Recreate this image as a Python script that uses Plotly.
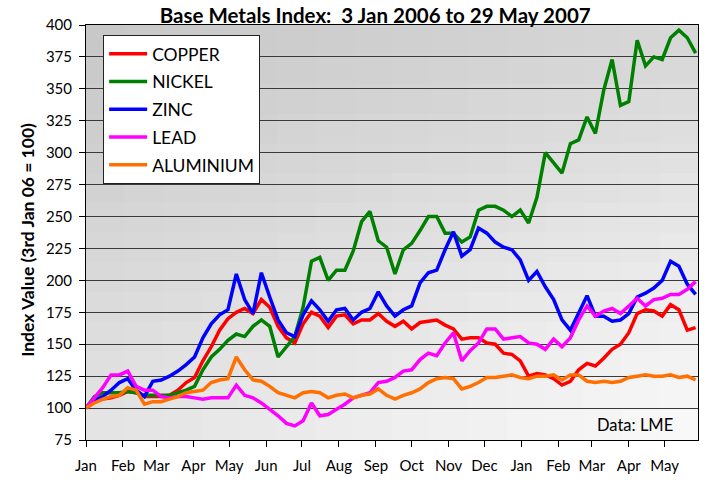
import pandas as pd
import plotly.graph_objects as go

# Weekly observation dates (3 Jan 2006 .. 29 May 2007)
start_date = "2006-01-03"
n_points = 74
dates = pd.date_range(start_date, periods=n_points, freq="7D")

copper = [100, 105, 107, 108, 110, 113, 112, 109, 109, 109,
          110, 114, 120, 124, 137, 148, 161, 170, 175, 178,
          174, 185, 179, 164, 155, 151, 166, 175, 172, 163,
          172, 173, 166, 169, 169, 174, 168, 164, 168, 162,
          167, 168, 169, 165, 162, 154, 155, 155, 151, 150,
          143, 142, 137, 125, 127, 126, 123, 118, 121, 130,
          135, 133, 139, 146, 150, 159, 174, 177, 176, 172,
          181, 177, 161, 163]
nickel = [100, 109, 112, 112, 112, 113, 112, 110, 110, 110,
          110, 112, 114, 117, 130, 140, 146, 153, 158, 156,
          164, 169, 164, 140, 148, 156, 179, 215, 218, 200,
          208, 208, 223, 246, 254, 231, 226, 205, 224, 229,
          239, 250, 250, 237, 237, 230, 234, 255, 258, 258,
          255, 250, 255, 245, 265, 300, 292, 284, 307, 310,
          328, 315, 349, 373, 337, 340, 388, 368, 375, 373,
          390, 396, 390, 378]
zinc = [100, 106, 109, 114, 120, 123, 114, 109, 121, 122,
        125, 129, 134, 140, 155, 166, 173, 177, 205, 185,
        174, 206, 187, 169, 159, 156, 173, 184, 177, 168,
        177, 178, 169, 175, 178, 191, 180, 172, 177, 180,
        198, 206, 208, 224, 238, 219, 224, 241, 237, 230,
        226, 224, 216, 200, 207, 195, 185, 169, 161, 174,
        188, 172, 172, 168, 169, 174, 187, 190, 194, 200,
        215, 211, 197, 189]
lead = [100, 108, 116, 126, 126, 129, 117, 114, 114, 109,
        108, 109, 109, 108, 107, 108, 108, 108, 118, 110,
        108, 104, 99, 94, 88, 86, 90, 104, 94, 95,
        99, 103, 108, 110, 112, 120, 121, 124, 129, 130,
        138, 143, 141, 151, 159, 137, 145, 151, 162, 162,
        154, 155, 156, 151, 150, 146, 154, 148, 155, 169,
        180, 172, 176, 178, 174, 180, 186, 180, 185, 186,
        189, 189, 193, 199]
aluminium = [100, 104, 107, 109, 110, 116, 114, 103, 105, 105,
             107, 109, 112, 113, 114, 120, 122, 123, 140, 130,
             122, 121, 117, 112, 110, 108, 112, 113, 112, 108,
             110, 111, 108, 110, 111, 115, 110, 107, 110, 112,
             115, 120, 123, 124, 123, 115, 117, 120, 124, 124,
             125, 126, 124, 123, 125, 125, 126, 122, 126, 126,
             121, 120, 121, 120, 121, 124, 125, 126, 125, 125,
             126, 124, 125, 122]

series_names = ["COPPER", "NICKEL", "ZINC", "LEAD", "ALUMINIUM"]
series_values = [copper, nickel, zinc, lead, aluminium]
series_colors = ["#ff0000", "#008000", "#0000ff", "#ff00ff", "#ff7000"]

month_ticks = pd.date_range("2006-01-01", "2007-05-03", freq="MS") + pd.Timedelta(days=2)
month_labels = [d.strftime("%b") for d in month_ticks]
y_ticks = list(range(75, 401, 25))

FONT = "Lato, 'Open Sans', sans-serif"

fig = go.Figure()
for i, (name, vals, col) in enumerate(zip(series_names, series_values, series_colors)):
    fig.add_trace(go.Scatter(
        x=dates, y=vals, name=name, mode="lines",
        line=dict(color=col, width=3.5),
        legendgroup=f"g{i}",
    ))

# gradient plot background (bilinear between corner greys)
def mix(a, b, t):
    return a + (b - a) * t
tl, tr, bl, br = 198, 214, 228, 250
nx, ny = 16, 14
shapes = []
for ix in range(nx):
    for iy in range(ny):
        u = (ix + 0.5) / nx
        v = (iy + 0.5) / ny  # 0 bottom, 1 top
        top = mix(tl, tr, u)
        bot = mix(bl, br, u)
        g = int(round(mix(bot, top, v)))
        shapes.append(dict(
            type="rect", xref="paper", yref="paper", layer="below",
            x0=ix / nx, x1=min(1.0, (ix + 1) / nx + 0.002),
            y0=iy / ny, y1=min(1.0, (iy + 1) / ny + 0.002),
            fillcolor=f"rgb({g},{g},{g})", line=dict(width=0),
        ))

fig.update_layout(
    width=708, height=483,
    margin=dict(l=86, r=10, t=25, b=43, autoexpand=False),
    paper_bgcolor="white",
    plot_bgcolor="rgba(0,0,0,0)",
    shapes=shapes,
    font=dict(family=FONT, size=15, color="black"),
    title=dict(
        text="<b>Base Metals Index:  3 Jan 2006 to 29 May 2007</b>",
        x=0.53, xanchor="center", y=0.968, yanchor="middle",
        font=dict(family=FONT, size=20.5, color="black"),
        automargin=False,
    ),
    showlegend=True,
    legend=dict(
        x=0.028, y=0.976, xanchor="left", yanchor="top",
        bgcolor="white", bordercolor="#222222", borderwidth=1,
        font=dict(family=FONT, size=17.5, color="black"),
        tracegroupgap=2, itemwidth=38,
    ),
    xaxis=dict(
        type="date",
        range=["2006-01-03", "2007-05-31"],
        tickvals=list(month_ticks), ticktext=month_labels,
        ticks="outside", ticklen=6, tickcolor="black",
        showgrid=False, showline=True, linecolor="black", linewidth=1,
        mirror=True, zeroline=False, automargin=False,
        tickfont=dict(family=FONT, size=15, color="black"),
        ticklabelstandoff=6,
    ),
    yaxis=dict(
        range=[75, 400], tickvals=y_ticks,
        ticks="outside", ticklen=6, tickcolor="black",
        showgrid=True, gridcolor="#3a3a3a", gridwidth=1,
        showline=True, linecolor="black", linewidth=1,
        mirror=True, zeroline=False, automargin=False,
        tickfont=dict(family=FONT, size=15, color="black"),
        ticklabelstandoff=4,
    ),
    annotations=[
        dict(text="<b>Index Value (3rd Jan 06 = 100)</b>", textangle=-90,
             xref="paper", yref="paper", x=-0.095, y=0.482,
             xanchor="center", yanchor="middle", showarrow=False,
             font=dict(family=FONT, size=17.5, color="black")),
        dict(text="Data: LME", xref="paper", yref="paper",
             x=0.897, y=0.036, xanchor="center", yanchor="middle",
             showarrow=False, font=dict(family=FONT, size=16.5, color="black")),
    ],
)

fig.write_html("out.html", config={"displayModeBar": False},
               post_script="document.body.style.margin='0';")
